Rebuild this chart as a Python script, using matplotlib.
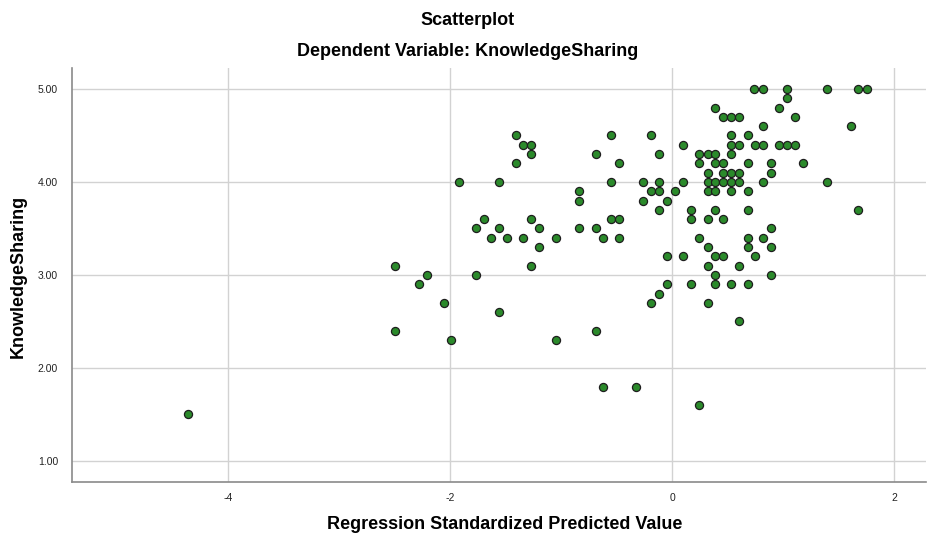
import matplotlib.pyplot as plt

# Regression Standardized Predicted Value (x) vs KnowledgeSharing (y),
# read off the SPSS scatterplot, grouped by KnowledgeSharing level
levels = [5.0, 4.9, 4.8, 4.7, 4.6, 4.5, 4.4, 4.3, 4.2, 4.1, 4.0, 3.9, 3.8, 3.7,
          3.6, 3.5, 3.4, 3.3, 3.2, 3.1, 3.0, 2.9, 2.8, 2.7, 2.6, 2.5, 2.4, 2.3,
          1.8, 1.6, 1.5]
predicted = [
    [0.74, 0.82, 1.04, 1.40, 1.68, 1.76],
    [1.04],
    [0.39, 0.96],
    [0.46, 0.53, 0.60, 1.11],
    [0.82, 1.61],
    [-1.41, -0.55, -0.19, 0.53, 0.68],
    [-1.34, -1.27, 0.10, 0.53, 0.60, 0.75, 0.82, 0.96, 1.04, 1.11],
    [-1.27, -0.69, -0.12, 0.24, 0.32, 0.39, 0.53],
    [-1.41, -0.48, 0.24, 0.39, 0.46, 0.68, 0.89, 1.18],
    [0.32, 0.46, 0.53, 0.60, 0.89],
    [-1.92, -1.56, -0.55, -0.26, -0.12, 0.10, 0.32, 0.39, 0.46, 0.53, 0.60, 0.82, 1.40],
    [-0.84, -0.19, -0.12, 0.03, 0.32, 0.39, 0.53, 0.68],
    [-0.84, -0.26, -0.05],
    [-0.12, 0.17, 0.39, 0.68, 1.68],
    [-1.70, -1.27, -0.55, -0.48, 0.17, 0.32, 0.46],
    [-1.77, -1.56, -1.20, -0.84, -0.69, 0.89],
    [-1.63, -1.49, -1.34, -1.05, -0.62, -0.48, 0.24, 0.68, 0.82],
    [-1.20, 0.32, 0.68, 0.89],
    [-0.05, 0.10, 0.39, 0.46, 0.75],
    [-2.50, -1.27, 0.32, 0.60],
    [-2.21, -1.77, 0.39, 0.89],
    [-2.28, -0.05, 0.17, 0.39, 0.53, 0.68],
    [-0.12],
    [-2.06, -0.19, 0.32],
    [-1.56],
    [0.60],
    [-2.50, -0.69],
    [-1.99, -1.05],
    [-0.62, -0.33],
    [0.24],
    [-4.36],
]
xticks = [-4, -2, 0, 2]
yticks = [1.0, 2.0, 3.0, 4.0, 5.0]

x = [v for row in predicted for v in row]
y = [lv for lv, row in zip(levels, predicted) for _ in row]

plt.rcParams['font.family'] = ['Liberation Sans', 'DejaVu Sans']

fig = plt.figure(figsize=(9.28, 5.34), dpi=100)
ax = fig.add_axes([0.0776, 0.0974, 0.9204, 0.7753])

ax.scatter(x, y, s=34, c='#2b8a2b', edgecolors='#1e1e1e', linewidths=0.9, zorder=3)

ax.set_xlim(-5.41, 2.29)
ax.set_ylim(0.774, 5.226)
ax.set_xticks(xticks)
ax.set_xticklabels([str(t) for t in xticks])
ax.set_yticks(yticks)
ax.set_yticklabels(['%.2f' % t for t in yticks])
ax.grid(True, color='#d2d2d2', linewidth=1.0, zorder=0)
ax.tick_params(length=0, labelsize=7.5, colors='#222222')
ax.tick_params(axis='x', pad=8)
ax.tick_params(axis='y', pad=10)

for side in ['top', 'right']:
    ax.spines[side].set_visible(False)
for side in ['left', 'bottom']:
    ax.spines[side].set_color('#8a8a8a')
    ax.spines[side].set_linewidth(1.2)

ax.set_xlabel('Regression Standardized Predicted Value', fontsize=13,
              fontweight='bold', va='center')
ax.xaxis.set_label_coords(0.507, -0.103)
ax.set_ylabel('KnowledgeSharing', fontsize=13, fontweight='bold', va='center')
ax.yaxis.set_label_coords(-0.063, 0.497)

fig.text(0.504, 0.9625, 'Scatterplot', ha='center', va='center',
         fontsize=13, fontweight='bold')
fig.text(0.504, 0.903, 'Dependent Variable: KnowledgeSharing', ha='center',
         va='center', fontsize=13, fontweight='bold')

fig.savefig('out.png', dpi=100)
